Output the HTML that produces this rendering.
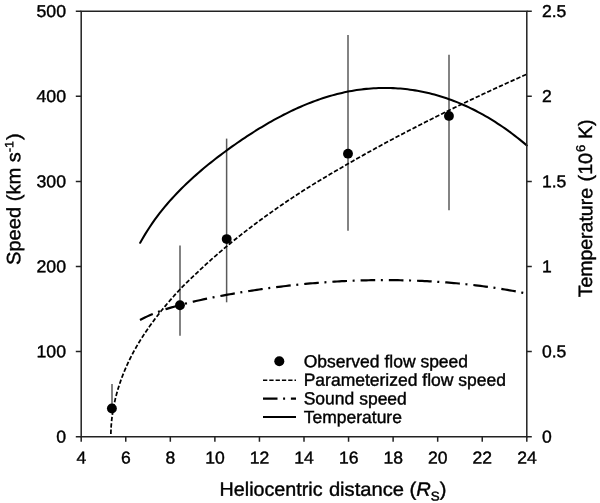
<!DOCTYPE html>
<html><head><meta charset="utf-8"><title>chart</title>
<style>html,body{margin:0;padding:0;background:#fff;width:600px;height:503px;overflow:hidden}
text{font-family:"Liberation Sans",sans-serif}</style></head>
<body>
<svg width="600" height="503" viewBox="0 0 600 503" style="position:absolute;left:0;top:0;will-change:transform">
<rect width="600" height="503" fill="#fff"/>
<line x1="112.0" y1="384.0" x2="112.0" y2="408.6" stroke="#5a5a5a" stroke-width="1.5"/>
<line x1="180.0" y1="245.5" x2="180.0" y2="335.7" stroke="#5a5a5a" stroke-width="1.5"/>
<line x1="226.62" y1="138.6" x2="226.62" y2="302.3" stroke="#5a5a5a" stroke-width="1.5"/>
<line x1="348.0" y1="35.1" x2="348.0" y2="230.7" stroke="#5a5a5a" stroke-width="1.5"/>
<line x1="449.0" y1="54.8" x2="449.0" y2="210.2" stroke="#5a5a5a" stroke-width="1.5"/>
<path d="M140.20,242.79 L142.63,238.49 L145.06,234.39 L147.49,230.48 L149.93,226.73 L152.36,223.14 L154.79,219.70 L157.22,216.38 L159.65,213.19 L162.08,210.11 L164.51,207.13 L166.95,204.25 L169.38,201.45 L171.81,198.73 L174.24,196.08 L176.67,193.50 L179.10,190.98 L181.53,188.53 L183.97,186.13 L186.40,183.78 L188.83,181.48 L191.26,179.23 L193.69,177.02 L196.12,174.86 L198.55,172.73 L200.99,170.64 L203.42,168.59 L205.85,166.57 L208.28,164.58 L210.71,162.62 L213.14,160.70 L215.57,158.80 L218.01,156.92 L220.44,155.07 L222.87,153.25 L225.30,151.45 L227.73,149.67 L230.16,147.91 L232.59,146.18 L235.03,144.47 L237.46,142.78 L239.89,141.10 L242.32,139.45 L244.75,137.82 L247.18,136.21 L249.62,134.62 L252.05,133.06 L254.48,131.51 L256.91,129.99 L259.34,128.49 L261.77,127.01 L264.20,125.55 L266.64,124.12 L269.07,122.71 L271.50,121.33 L273.93,119.97 L276.36,118.63 L278.79,117.32 L281.22,116.04 L283.66,114.78 L286.09,113.54 L288.52,112.34 L290.95,111.16 L293.38,110.00 L295.81,108.88 L298.24,107.78 L300.68,106.70 L303.11,105.66 L305.54,104.64 L307.97,103.66 L310.40,102.70 L312.83,101.76 L315.26,100.86 L317.70,99.99 L320.13,99.15 L322.56,98.33 L324.99,97.55 L327.42,96.79 L329.85,96.07 L332.28,95.37 L334.72,94.71 L337.15,94.07 L339.58,93.47 L342.01,92.90 L344.44,92.35 L346.87,91.84 L349.30,91.36 L351.74,90.91 L354.17,90.50 L356.60,90.11 L359.03,89.76 L361.46,89.43 L363.89,89.14 L366.32,88.88 L368.76,88.65 L371.19,88.46 L373.62,88.29 L376.05,88.16 L378.48,88.06 L380.91,87.99 L383.34,87.95 L385.78,87.95 L388.21,87.97 L390.64,88.03 L393.07,88.12 L395.50,88.25 L397.93,88.40 L400.36,88.59 L402.80,88.81 L405.23,89.06 L407.66,89.34 L410.09,89.66 L412.52,90.00 L414.95,90.38 L417.38,90.80 L419.82,91.24 L422.25,91.72 L424.68,92.23 L427.11,92.78 L429.54,93.35 L431.97,93.96 L434.41,94.61 L436.84,95.28 L439.27,95.99 L441.70,96.74 L444.13,97.51 L446.56,98.32 L448.99,99.17 L451.43,100.05 L453.86,100.96 L456.29,101.91 L458.72,102.90 L461.15,103.91 L463.58,104.97 L466.01,106.06 L468.45,107.18 L470.88,108.34 L473.31,109.53 L475.74,110.77 L478.17,112.04 L480.60,113.34 L483.03,114.68 L485.47,116.06 L487.90,117.48 L490.33,118.93 L492.76,120.42 L495.19,121.95 L497.62,123.52 L500.05,125.13 L502.49,126.77 L504.92,128.46 L507.35,130.18 L509.78,131.95 L512.21,133.75 L514.64,135.60 L517.07,137.48 L519.51,139.41 L521.94,141.38 L524.37,143.39 L526.80,145.44" fill="none" stroke="#000" stroke-width="2.05" stroke-linecap="round"/>
<path d="M140.00,320.04 L142.43,318.75 L144.87,317.52 L147.30,316.37 L149.73,315.28 L152.16,314.24 L154.60,313.25 L157.03,312.31 L159.46,311.40 L161.89,310.54 L164.33,309.71 L166.76,308.91 L169.19,308.14 L171.63,307.40 L174.06,306.68 L176.49,305.98 L178.92,305.30 L181.36,304.65 L183.79,304.01 L186.22,303.39 L188.65,302.78 L191.09,302.19 L193.52,301.61 L195.95,301.05 L198.38,300.50 L200.82,299.96 L203.25,299.43 L205.68,298.91 L208.12,298.41 L210.55,297.91 L212.98,297.42 L215.41,296.94 L217.85,296.47 L220.28,296.01 L222.71,295.55 L225.14,295.10 L227.58,294.66 L230.01,294.23 L232.44,293.80 L234.88,293.38 L237.31,292.96 L239.74,292.55 L242.17,292.15 L244.61,291.75 L247.04,291.36 L249.47,290.98 L251.90,290.60 L254.34,290.23 L256.77,289.86 L259.20,289.50 L261.64,289.15 L264.07,288.80 L266.50,288.46 L268.93,288.13 L271.37,287.80 L273.80,287.48 L276.23,287.17 L278.66,286.86 L281.10,286.56 L283.53,286.26 L285.96,285.97 L288.39,285.69 L290.83,285.42 L293.26,285.15 L295.69,284.89 L298.13,284.63 L300.56,284.38 L302.99,284.14 L305.42,283.91 L307.86,283.68 L310.29,283.46 L312.72,283.24 L315.15,283.04 L317.59,282.84 L320.02,282.64 L322.45,282.46 L324.89,282.28 L327.32,282.11 L329.75,281.94 L332.18,281.78 L334.62,281.63 L337.05,281.49 L339.48,281.35 L341.91,281.22 L344.35,281.10 L346.78,280.98 L349.21,280.87 L351.65,280.77 L354.08,280.68 L356.51,280.59 L358.94,280.51 L361.38,280.44 L363.81,280.37 L366.24,280.31 L368.67,280.26 L371.11,280.22 L373.54,280.18 L375.97,280.15 L378.41,280.13 L380.84,280.11 L383.27,280.10 L385.70,280.10 L388.14,280.11 L390.57,280.12 L393.00,280.14 L395.43,280.17 L397.87,280.20 L400.30,280.24 L402.73,280.29 L405.16,280.35 L407.60,280.41 L410.03,280.48 L412.46,280.56 L414.90,280.65 L417.33,280.74 L419.76,280.84 L422.19,280.95 L424.63,281.06 L427.06,281.19 L429.49,281.32 L431.92,281.46 L434.36,281.60 L436.79,281.75 L439.22,281.92 L441.66,282.08 L444.09,282.26 L446.52,282.45 L448.95,282.64 L451.39,282.84 L453.82,283.05 L456.25,283.27 L458.68,283.49 L461.12,283.72 L463.55,283.97 L465.98,284.22 L468.42,284.48 L470.85,284.75 L473.28,285.02 L475.71,285.31 L478.15,285.60 L480.58,285.91 L483.01,286.22 L485.44,286.54 L487.88,286.88 L490.31,287.22 L492.74,287.57 L495.17,287.93 L497.61,288.30 L500.04,288.68 L502.47,289.07 L504.91,289.48 L507.34,289.89 L509.77,290.31 L512.20,290.75 L514.64,291.19 L517.07,291.65 L519.50,292.12 L521.93,292.60 L524.37,293.09 L526.80,293.59" fill="none" stroke="#000" stroke-width="2.2" stroke-dasharray="14.65 5.62 2 5.97" stroke-dashoffset="0.5"/>
<path d="M110.86,433.98 L110.87,433.14 L110.89,432.31 L110.92,431.47 L110.95,430.64 L110.98,429.80 L111.02,428.97 L111.06,428.13 L111.11,427.29 L111.16,426.46 L111.22,425.62 L111.28,424.79 L111.35,423.95 L111.41,423.12 L111.49,422.28 L111.57,421.45 L111.65,420.61 L111.74,419.78 L111.83,418.94 L111.92,418.11 L112.02,417.27 L112.13,416.44 L112.24,415.60 L112.35,414.77 L112.47,413.93 L112.59,413.10 L112.72,412.26 L112.85,411.42 L112.98,410.59 L113.12,409.75 L113.27,408.92 L113.42,408.08 L113.57,407.25 L113.73,406.41 L113.89,405.58 L114.06,404.74 L114.23,403.91 L114.40,403.07 L114.58,402.24 L114.77,401.40 L114.95,400.57 L115.15,399.73 L115.34,398.90 L115.54,398.06 L115.75,397.23 L115.96,396.39 L116.18,395.55 L116.40,394.72 L116.62,393.88 L116.85,393.05 L117.08,392.21 L117.32,391.38 L117.56,390.54 L117.80,389.71 L118.05,388.87 L118.31,388.04 L118.57,387.20 L118.83,386.37 L119.10,385.53 L119.37,384.70 L119.64,383.86 L119.93,383.03 L120.21,382.19 L120.50,381.35 L120.79,380.52 L121.09,379.68 L121.40,378.85 L121.70,378.01 L122.01,377.18 L122.33,376.34 L122.65,375.51 L122.98,374.67 L123.31,373.84 L123.64,373.00 L123.98,372.17 L124.32,371.33 L124.67,370.50 L125.02,369.66 L125.37,368.83 L125.73,367.99 L126.10,367.16 L126.47,366.32 L126.84,365.49 L127.22,364.66 L127.60,363.82 L127.99,362.99 L128.38,362.16 L128.77,361.33 L129.17,360.49 L129.58,359.66 L129.99,358.83 L130.40,358.00 L130.82,357.17 L131.24,356.34 L131.66,355.51 L132.09,354.68 L132.53,353.85 L132.97,353.02 L133.41,352.20 L133.86,351.37 L134.31,350.54 L134.77,349.71 L135.23,348.89 L135.70,348.06 L136.17,347.24 L136.64,346.41 L137.12,345.58 L137.60,344.76 L138.09,343.93 L138.58,343.11 L139.08,342.29 L139.58,341.46 L140.09,340.64 L140.60,339.81 L141.11,338.99 L141.63,338.17 L142.15,337.35 L142.68,336.52 L143.21,335.70 L143.75,334.88 L144.30,334.04 L145.15,332.75 L146.02,331.47 L146.90,330.18 L147.78,328.90 L148.68,327.61 L149.59,326.32 L150.51,325.04 L151.44,323.75 L152.38,322.46 L153.33,321.17 L154.30,319.88 L155.27,318.59 L156.25,317.30 L157.25,316.01 L158.25,314.71 L159.27,313.41 L160.30,312.12 L161.34,310.82 L162.38,309.52 L163.44,308.21 L164.51,306.91 L165.60,305.61 L166.69,304.31 L167.79,303.00 L168.90,301.70 L170.03,300.40 L171.16,299.10 L172.31,297.79 L173.47,296.49 L174.63,295.19 L175.81,293.89 L177.00,292.59 L178.20,291.29 L179.41,289.99 L180.63,288.70 L181.87,287.41 L183.11,286.14 L184.36,284.87 L185.63,283.60 L186.90,282.35 L188.19,281.09 L189.48,279.84 L190.79,278.59 L192.11,277.34 L193.44,276.08 L194.78,274.82 L196.13,273.56 L197.49,272.28 L198.86,270.99 L200.25,269.69 L201.64,268.38 L203.05,267.07 L204.46,265.77 L205.89,264.46 L207.32,263.15 L208.77,261.84 L210.23,260.53 L211.70,259.22 L213.18,257.91 L214.67,256.60 L216.17,255.29 L217.69,253.98 L219.21,252.67 L220.74,251.36 L222.29,250.05 L223.84,248.74 L225.41,247.42 L226.99,246.11 L228.57,244.80 L230.17,243.49 L231.78,242.18 L233.40,240.86 L235.03,239.55 L236.68,238.23 L238.33,236.92 L239.99,235.60 L241.67,234.28 L243.35,232.97 L245.05,231.65 L246.75,230.33 L248.47,229.01 L250.20,227.69 L251.94,226.37 L253.69,225.05 L255.45,223.73 L257.22,222.41 L259.00,221.09 L260.79,219.77 L262.60,218.45 L264.41,217.13 L266.24,215.81 L268.07,214.49 L269.92,213.17 L271.78,211.85 L273.64,210.53 L275.52,209.21 L277.41,207.90 L279.31,206.58 L281.23,205.26 L283.15,203.94 L285.08,202.63 L287.02,201.31 L288.98,200.00 L290.94,198.69 L292.92,197.37 L294.91,196.06 L296.90,194.75 L298.91,193.44 L300.93,192.14 L302.96,190.83 L305.00,189.54 L307.05,188.24 L309.12,186.95 L311.19,185.66 L313.27,184.37 L315.37,183.09 L317.47,181.80 L319.59,180.52 L321.72,179.24 L323.85,177.96 L326.00,176.68 L328.16,175.40 L330.33,174.12 L332.51,172.84 L334.70,171.55 L336.91,170.27 L339.12,168.98 L341.34,167.69 L343.58,166.39 L345.82,165.09 L348.08,163.79 L350.35,162.48 L352.62,161.17 L354.91,159.87 L357.21,158.56 L359.52,157.25 L361.84,155.94 L364.18,154.63 L366.52,153.32 L368.87,152.02 L371.24,150.71 L373.61,149.40 L376.00,148.09 L378.39,146.78 L380.80,145.47 L383.22,144.16 L385.65,142.85 L388.09,141.54 L390.54,140.23 L393.00,138.92 L395.47,137.61 L397.95,136.30 L400.45,134.99 L402.95,133.68 L405.47,132.36 L407.99,131.05 L410.53,129.73 L413.08,128.42 L415.63,127.10 L418.20,125.79 L420.78,124.47 L423.37,123.15 L425.97,121.83 L428.59,120.51 L431.21,119.19 L433.84,117.87 L436.49,116.55 L439.14,115.23 L441.81,113.91 L444.48,112.59 L447.17,111.27 L449.87,109.95 L452.58,108.63 L455.30,107.31 L458.03,105.99 L460.77,104.67 L463.52,103.35 L466.29,102.02 L469.06,100.70 L471.85,99.38 L474.64,98.05 L477.45,96.73 L480.26,95.40 L483.09,94.08 L485.93,92.75 L488.78,91.43 L491.64,90.10 L494.51,88.78 L497.39,87.45 L500.28,86.13 L503.19,84.80 L506.10,83.48 L509.03,82.16 L511.96,80.83 L514.91,79.51 L517.86,78.19 L520.83,76.87 L523.81,75.55 L526.80,74.23" fill="none" stroke="#000" stroke-width="1.75" stroke-dasharray="4.4 2"/>
<circle cx="111.9" cy="408.5" r="4.95" fill="#000"/>
<circle cx="179.95" cy="305.2" r="4.95" fill="#000"/>
<circle cx="226.7" cy="239.1" r="4.95" fill="#000"/>
<circle cx="348.0" cy="153.65" r="4.95" fill="#000"/>
<circle cx="448.95" cy="115.9" r="4.95" fill="#000"/>
<path d="M81.2,11.2 H526.8 V436.7 H81.2 Z" fill="none" stroke="#222" stroke-width="1.5"/>
<path d="M81.20,436.7 v5 M125.76,436.7 v5 M170.32,436.7 v5 M214.88,436.7 v5 M259.44,436.7 v5 M304.00,436.7 v5 M348.56,436.7 v5 M393.12,436.7 v5 M437.68,436.7 v5 M482.24,436.7 v5 M526.80,436.7 v5 M81.2,436.70 h-5.4 M526.8,436.70 h5 M81.2,351.60 h-5.4 M526.8,351.60 h5 M81.2,266.50 h-5.4 M526.8,266.50 h5 M81.2,181.40 h-5.4 M526.8,181.40 h5 M81.2,96.30 h-5.4 M526.8,96.30 h5 M81.2,11.20 h-5.4 M526.8,11.20 h5" fill="none" stroke="#222" stroke-width="1.5"/>
<circle cx="279.3" cy="361.3" r="5.0" fill="#000"/>
<path d="M263,380.2 H296" stroke="#000" stroke-width="1.6" stroke-dasharray="4.3 2" fill="none"/>
<path d="M263,398.7 H296" stroke="#000" stroke-width="2.2" stroke-dasharray="14.5 5.6 2 5.8 10" fill="none"/>
<path d="M263,417 H296" stroke="#000" stroke-width="2.2" fill="none"/>
<text transform="translate(81.30,463.40) rotate(0.03) scale(1.02,1)" font-size="17.2" text-anchor="middle" font-family="Liberation Sans, sans-serif" fill="#000" stroke="#000" stroke-width="0.4">4</text>
<text transform="translate(125.86,463.40) rotate(0.03) scale(1.02,1)" font-size="17.2" text-anchor="middle" font-family="Liberation Sans, sans-serif" fill="#000" stroke="#000" stroke-width="0.4">6</text>
<text transform="translate(170.42,463.40) rotate(0.03) scale(1.02,1)" font-size="17.2" text-anchor="middle" font-family="Liberation Sans, sans-serif" fill="#000" stroke="#000" stroke-width="0.4">8</text>
<text transform="translate(214.98,463.40) rotate(0.03) scale(1.02,1)" font-size="17.2" text-anchor="middle" font-family="Liberation Sans, sans-serif" fill="#000" stroke="#000" stroke-width="0.4">10</text>
<text transform="translate(259.54,463.40) rotate(0.03) scale(1.02,1)" font-size="17.2" text-anchor="middle" font-family="Liberation Sans, sans-serif" fill="#000" stroke="#000" stroke-width="0.4">12</text>
<text transform="translate(304.10,463.40) rotate(0.03) scale(1.02,1)" font-size="17.2" text-anchor="middle" font-family="Liberation Sans, sans-serif" fill="#000" stroke="#000" stroke-width="0.4">14</text>
<text transform="translate(348.66,463.40) rotate(0.03) scale(1.02,1)" font-size="17.2" text-anchor="middle" font-family="Liberation Sans, sans-serif" fill="#000" stroke="#000" stroke-width="0.4">16</text>
<text transform="translate(393.22,463.40) rotate(0.03) scale(1.02,1)" font-size="17.2" text-anchor="middle" font-family="Liberation Sans, sans-serif" fill="#000" stroke="#000" stroke-width="0.4">18</text>
<text transform="translate(437.78,463.40) rotate(0.03) scale(1.02,1)" font-size="17.2" text-anchor="middle" font-family="Liberation Sans, sans-serif" fill="#000" stroke="#000" stroke-width="0.4">20</text>
<text transform="translate(482.34,463.40) rotate(0.03) scale(1.02,1)" font-size="17.2" text-anchor="middle" font-family="Liberation Sans, sans-serif" fill="#000" stroke="#000" stroke-width="0.4">22</text>
<text transform="translate(526.90,463.40) rotate(0.03) scale(1.02,1)" font-size="17.2" text-anchor="middle" font-family="Liberation Sans, sans-serif" fill="#000" stroke="#000" stroke-width="0.4">24</text>
<text transform="translate(66.00,442.45) rotate(0.03) scale(1.03,1)" font-size="17.2" text-anchor="end" font-family="Liberation Sans, sans-serif" fill="#000" stroke="#000" stroke-width="0.4">0</text>
<text transform="translate(66.00,357.35) rotate(0.03) scale(1.03,1)" font-size="17.2" text-anchor="end" font-family="Liberation Sans, sans-serif" fill="#000" stroke="#000" stroke-width="0.4">100</text>
<text transform="translate(66.00,272.25) rotate(0.03) scale(1.03,1)" font-size="17.2" text-anchor="end" font-family="Liberation Sans, sans-serif" fill="#000" stroke="#000" stroke-width="0.4">200</text>
<text transform="translate(66.00,187.15) rotate(0.03) scale(1.03,1)" font-size="17.2" text-anchor="end" font-family="Liberation Sans, sans-serif" fill="#000" stroke="#000" stroke-width="0.4">300</text>
<text transform="translate(66.00,102.05) rotate(0.03) scale(1.03,1)" font-size="17.2" text-anchor="end" font-family="Liberation Sans, sans-serif" fill="#000" stroke="#000" stroke-width="0.4">400</text>
<text transform="translate(66.00,16.95) rotate(0.03) scale(1.03,1)" font-size="17.2" text-anchor="end" font-family="Liberation Sans, sans-serif" fill="#000" stroke="#000" stroke-width="0.4">500</text>
<text transform="translate(541.90,442.45) rotate(0.03) scale(1.02,1)" font-size="17.2" text-anchor="start" font-family="Liberation Sans, sans-serif" fill="#000" stroke="#000" stroke-width="0.4">0</text>
<text transform="translate(541.90,357.35) rotate(0.03) scale(1.02,1)" font-size="17.2" text-anchor="start" font-family="Liberation Sans, sans-serif" fill="#000" stroke="#000" stroke-width="0.4">0.5</text>
<text transform="translate(541.90,272.25) rotate(0.03) scale(1.02,1)" font-size="17.2" text-anchor="start" font-family="Liberation Sans, sans-serif" fill="#000" stroke="#000" stroke-width="0.4">1</text>
<text transform="translate(541.90,187.15) rotate(0.03) scale(1.02,1)" font-size="17.2" text-anchor="start" font-family="Liberation Sans, sans-serif" fill="#000" stroke="#000" stroke-width="0.4">1.5</text>
<text transform="translate(541.90,102.05) rotate(0.03) scale(1.02,1)" font-size="17.2" text-anchor="start" font-family="Liberation Sans, sans-serif" fill="#000" stroke="#000" stroke-width="0.4">2</text>
<text transform="translate(541.90,16.95) rotate(0.03) scale(1.02,1)" font-size="17.2" text-anchor="start" font-family="Liberation Sans, sans-serif" fill="#000" stroke="#000" stroke-width="0.4">2.5</text>
<text transform="translate(303.70,367.15) rotate(0.03) scale(1.003,1)" font-size="17.45" text-anchor="start" font-family="Liberation Sans, sans-serif" fill="#000" stroke="#000" stroke-width="0.4">Observed flow speed</text>
<text transform="translate(303.70,385.75) rotate(0.03) scale(1.003,1)" font-size="17.45" text-anchor="start" font-family="Liberation Sans, sans-serif" fill="#000" stroke="#000" stroke-width="0.4">Parameterized flow speed</text>
<text transform="translate(303.70,404.35) rotate(0.03) scale(1.003,1)" font-size="17.45" text-anchor="start" font-family="Liberation Sans, sans-serif" fill="#000" stroke="#000" stroke-width="0.4">Sound speed</text>
<text transform="translate(303.70,422.95) rotate(0.03) scale(1.003,1)" font-size="17.45" text-anchor="start" font-family="Liberation Sans, sans-serif" fill="#000" stroke="#000" stroke-width="0.4">Temperature</text>
<text transform="translate(219.60,495.70) rotate(0.03) scale(1.022,1)" font-size="19.3" text-anchor="start" font-family="Liberation Sans, sans-serif" fill="#000" stroke="#000" stroke-width="0.4">Heliocentric</text>
<text transform="translate(328.90,495.70) rotate(0.03) scale(1.045,1)" font-size="19.3" text-anchor="start" font-family="Liberation Sans, sans-serif" fill="#000" stroke="#000" stroke-width="0.4">distance (<tspan font-style="italic">R</tspan><tspan font-size="12.8" dy="4.8">S</tspan><tspan dy="-4.8">)</tspan></text>
<text transform="translate(20.20,265.00) rotate(-89.97) scale(1.043,1)" font-size="19.3" text-anchor="start" font-family="Liberation Sans, sans-serif" fill="#000" stroke="#000" stroke-width="0.4">Speed (km s<tspan font-size="12" dy="-7">-1</tspan><tspan dy="7" dx="0.8">)</tspan></text>
<text transform="translate(592.10,297.30) rotate(-89.97) scale(1.009,1)" font-size="19.3" text-anchor="start" font-family="Liberation Sans, sans-serif" fill="#000" stroke="#000" stroke-width="0.4">Temperature</text>
<text transform="translate(592.10,181.40) rotate(-89.97) scale(1.02,1)" font-size="19.3" text-anchor="start" font-family="Liberation Sans, sans-serif" fill="#000" stroke="#000" stroke-width="0.4">(10</text>
<text transform="translate(585.10,152.00) rotate(-89.97) scale(1.02,1)" font-size="12.8" text-anchor="start" font-family="Liberation Sans, sans-serif" fill="#000" stroke="#000" stroke-width="0.4">6</text>
<text transform="translate(592.10,139.00) rotate(-89.97) scale(1.02,1)" font-size="19.3" text-anchor="start" font-family="Liberation Sans, sans-serif" fill="#000" stroke="#000" stroke-width="0.4">K)</text>
</svg>
</body></html>
